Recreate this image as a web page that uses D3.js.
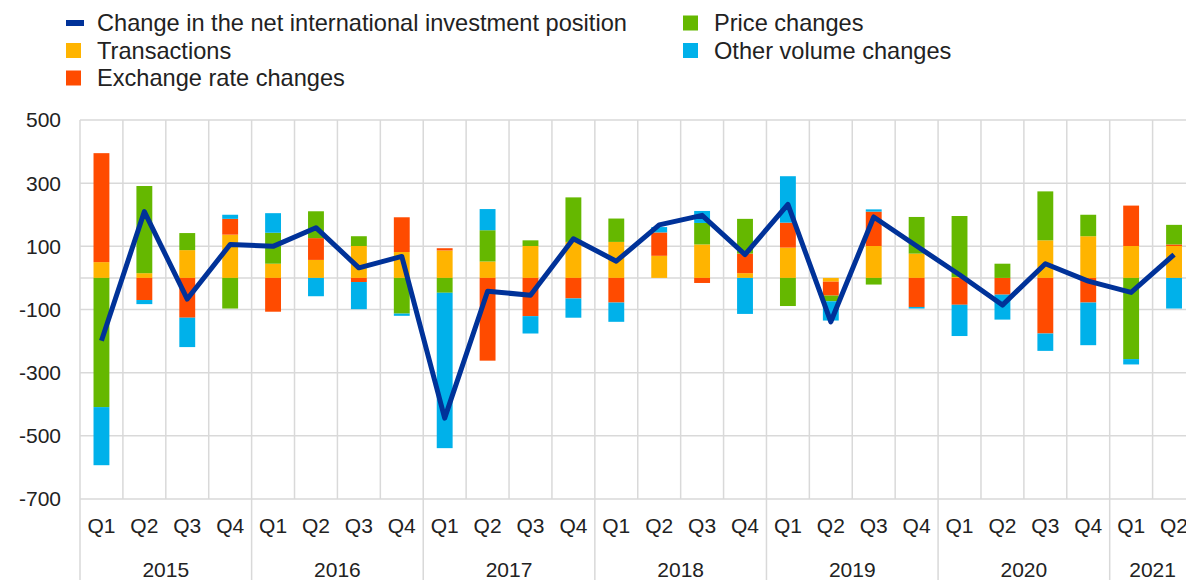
<!DOCTYPE html>
<html lang="en">
<head>
    <meta charset="UTF-8">
    <script src="https://cdnjs.cloudflare.com/ajax/libs/d3/7.8.5/d3.min.js"></script>
    <style>
        body { margin: 0; background: #fff; overflow: hidden; }
        svg { display: block; font-family: "Liberation Sans", Arial, sans-serif; }
    </style>
</head>
<body>
    <svg width="1186" height="580"></svg>
    <script>
        const years = ['2015', '2016', '2017', '2018', '2019', '2020', '2021'];
        const quarters = ['Q1', 'Q2', 'Q3', 'Q4'];
        const periods = years.flatMap(y => quarters.map(q => y + ' ' + q)).slice(0, 26);

        const transactions = [50, 15, 88, 137, 45, 57, 101, 82, 87, 52, 101, 114, 114, 70, 106, 15, 96, -12, 101, 77, 3, 0, 119, 132, 101, 101];
        const exchangeRate = [345, -70, -126, 50, -107, 69, -13, 110, 7, -262, -121, -65, -78, 74, -16, 62, 79, -44, 109, -92, -85, -53, -176, -78, 128, 5];
        const priceChanges = [-409, 276, 54, -97, 98, 85, 31, -113, -47, 99, 18, 141, 74, 0, 68, 110, -89, -18, -21, 116, 193, 45, 155, 68, -257, 62];
        const otherVolume = [-184, -13, -93, 13, 62, -58, -86, -7, -492, 67, -55, -61, -61, 17, 38, -114, 147, -61, 7, -5, -99, -79, -55, -135, -17, -97];
        const netPosition = [-199, 210, -67, 106, 100, 159, 32, 68, -444, -42, -55, 124, 53, 168, 198, 74, 233, -139, 193, 101, 10, -86, 45, -10, -46, 74];

        const seriesKeys = ['Transactions', 'Exchange rate changes', 'Price changes', 'Other volume changes'];
        const seriesData = [transactions, exchangeRate, priceChanges, otherVolume];
        const colors = ['#FFB400', '#FF4B00', '#65B800', '#00B1EA'];
        const lineColor = '#003299';
        const yTicks = [-700, -500, -300, -100, 100, 300, 500];

        const rows = periods.map((p, i) => {
            const r = { period: p };
            seriesKeys.forEach((k, j) => r[k] = seriesData[j][i]);
            return r;
        });

        const svg = d3.select('svg');
        // the plot runs slightly past the right edge, as in the original
        const plotLeft = 80, plotRight = 1195.5, plotTop = 120, plotBottom = 499;
        const grid = '#d9d9d9';

        const x = d3.scaleBand().domain(periods).range([plotLeft, plotRight])
            .paddingInner(0.63).paddingOuter(0.315);
        const step = x.step();
        const y = d3.scaleLinear().domain([-700, 500]).range([plotBottom, plotTop]);

        // horizontal grid
        svg.append('g').selectAll('line')
            .data(yTicks.concat([0]))
            .enter().append('line')
            .attr('x1', plotLeft).attr('x2', 1186)
            .attr('y1', d => y(d)).attr('y2', d => y(d))
            .style('stroke', grid).style('stroke-width', 1.5);

        // vertical grid (category boundaries), years extend below
        svg.append('g').selectAll('line')
            .data(d3.range(periods.length + 1))
            .enter().append('line')
            .attr('x1', i => plotLeft + i * step).attr('x2', i => plotLeft + i * step)
            .attr('y1', plotTop)
            .attr('y2', i => i % 4 === 0 ? 580 : plotBottom)
            .style('stroke', grid).style('stroke-width', 1.5);

        // y labels
        svg.append('g').selectAll('text')
            .data(yTicks)
            .enter().append('text')
            .attr('x', 61).attr('y', d => y(d))
            .attr('dy', '0.35em')
            .attr('text-anchor', 'end')
            .style('font-size', '21px').style('fill', '#222')
            .text(d => d);

        // stacked bars
        const stack = d3.stack().keys(seriesKeys)
            .offset(d3.stackOffsetDiverging);
        const stacked = stack(rows);

        svg.append('g').selectAll('g')
            .data(stacked)
            .enter().append('g')
            .style('fill', (d, i) => colors[i])
            .selectAll('rect')
            .data(d => d)
            .enter().append('rect')
            .attr('x', d => x(d.data.period))
            .attr('width', x.bandwidth())
            .attr('y', d => y(Math.max(d[0], d[1])))
            .attr('height', d => Math.abs(y(d[0]) - y(d[1])));

        // net position line
        const line = d3.line()
            .x((d, i) => x(periods[i]) + x.bandwidth() / 2)
            .y(d => y(d));
        svg.append('path')
            .datum(netPosition)
            .attr('d', line)
            .style('fill', 'none')
            .style('stroke', lineColor)
            .style('stroke-width', 5)
            .style('stroke-linejoin', 'round');

        // quarter labels
        svg.append('g').selectAll('text')
            .data(periods)
            .enter().append('text')
            .attr('x', d => x(d) + x.bandwidth() / 2)
            .attr('y', 533)
            .attr('text-anchor', 'middle')
            .style('font-size', '21px').style('fill', '#222')
            .text(d => d.split(' ')[1]);

        // year labels
        svg.append('g').selectAll('text')
            .data(years)
            .enter().append('text')
            .attr('x', (d, i) => {
                const n = Math.min(4, periods.length - i * 4);
                return plotLeft + (i * 4 + n / 2) * step;
            })
            .attr('y', 577)
            .attr('text-anchor', 'middle')
            .style('font-size', '21px').style('fill', '#222')
            .text(d => d);

        // legend
        const legendItems = [
            { name: 'Change in the net international investment position', color: lineColor, line: true, col: 0, row: 0 },
            { name: 'Transactions', color: colors[0], col: 0, row: 1 },
            { name: 'Exchange rate changes', color: colors[1], col: 0, row: 2 },
            { name: 'Price changes', color: colors[2], col: 1, row: 0 },
            { name: 'Other volume changes', color: colors[3], col: 1, row: 1 }
        ];
        const legX = [66, 683], legY = 23, legRow = 27.5;
        const lg = svg.append('g').selectAll('g')
            .data(legendItems)
            .enter().append('g')
            .attr('transform', d => `translate(${legX[d.col]}, ${legY + d.row * legRow})`);
        lg.append('rect')
            .attr('x', 0)
            .attr('y', d => d.line ? -3 : -7.5)
            .attr('width', d => d.line ? 18 : 15)
            .attr('height', d => d.line ? 6 : 15)
            .style('fill', d => d.color);
        lg.append('text')
            .attr('x', 31)
            .attr('dy', '0.35em')
            .style('font-size', '23.6px').style('fill', '#222')
            .text(d => d.name);
    </script>
</body>
</html>
